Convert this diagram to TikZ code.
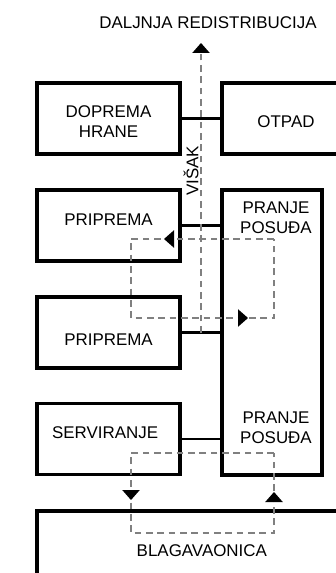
\documentclass[tikz,border=0pt]{standalone}
\usepackage{fontspec}
\setmainfont{Liberation Sans}
\usetikzlibrary{arrows.meta,calc,decorations.markings}

\tikzset{
  box/.style={draw, line width=2.3pt, minimum width=107.25pt, minimum height=53.25pt, inner sep=0pt},
  link/.style={line width=1.7pt},
  flow/.style={draw=black!50, line width=0.8pt, dash pattern=on 5pt off 3.5pt},
  tok/.tip={Triangle[width=13pt,length=7.5pt,color=black]},
}

\begin{document}
\begin{tikzpicture}[x=0.75pt,y=-0.75pt,font=\fontsize{12.7}{15}\selectfont]
\useasboundingbox (0,0) rectangle (335,573);

% kuhinja
\node[box, label={[align=center,yshift=-2.5pt]center:DOPREMA\\HRANE}] (dopr) at (108.5,118.5) {};
\node[box, minimum width=96pt, label={[yshift=-2.5pt]center:OTPAD}] (otpad) at (286,118.5) {};
\node[box, label={[yshift=4pt]center:PRIPREMA}] (prip1) at (108.5,225.5) {};
\node[box, label={[yshift=-5.5pt]center:PRIPREMA}] (prip2) at (108.5,332.5) {};
\node[box, label={[xshift=-2.5pt,yshift=5pt]center:SERVIRANJE}] (serv) at (108.5,439) {};
\node[box, minimum width=75pt, minimum height=213.75pt] (pranje) at (272,332.5) {};
\node[align=center] (pp1) at (276,217.5) {PRANJE\\POSUĐA};
\node[align=center] (pp2) at (276,427.5) {PRANJE\\POSUĐA};
\node[box, minimum width=242.25pt, minimum height=66.75pt, label={[xshift=2.5pt,yshift=4pt]center:BLAGAVAONICA}] (blag) at (198.5,555.5) {};

\draw[link] (dopr.east) -- (otpad.west);
\draw[link] (prip1.east) -- (prip1.east -| pranje.west);
\draw[link] (prip2.east) -- (prip2.east -| pranje.west);
\draw[link] (serv.east) -- (serv.east -| pranje.west);

% visak hrane
\node (dalje) at (208,23) {DALJNJA REDISTRIBUCIJA};
\node[rotate=90] (visak) at (191,171) {VIŠAK};
\coordinate (vpoc) at ($(prip2.east)!.5!(prip2.east -| pranje.west)$);
\coordinate (vkraj) at (vpoc |- 0,43);
\draw[flow, -tok] (vpoc) -- (vkraj);

% posude
\draw[flow, postaction={decorate}, decoration={markings,
    mark=at position 82.5pt with {\arrow{tok}},
    mark=at position 254.25pt with {\arrow{tok}}}]
  (274,239) -- (131,239) -- (131,318) -- (274,318) -- cycle;
\draw[flow, postaction={decorate}, decoration={markings,
    mark=at position 142.5pt with {\arrow{tok}},
    mark=at position 305.25pt with {\arrow{tok}}}]
  (274,453) -- (131,453) -- (131,533) -- (274,533) -- cycle;

\end{tikzpicture}
\end{document}
